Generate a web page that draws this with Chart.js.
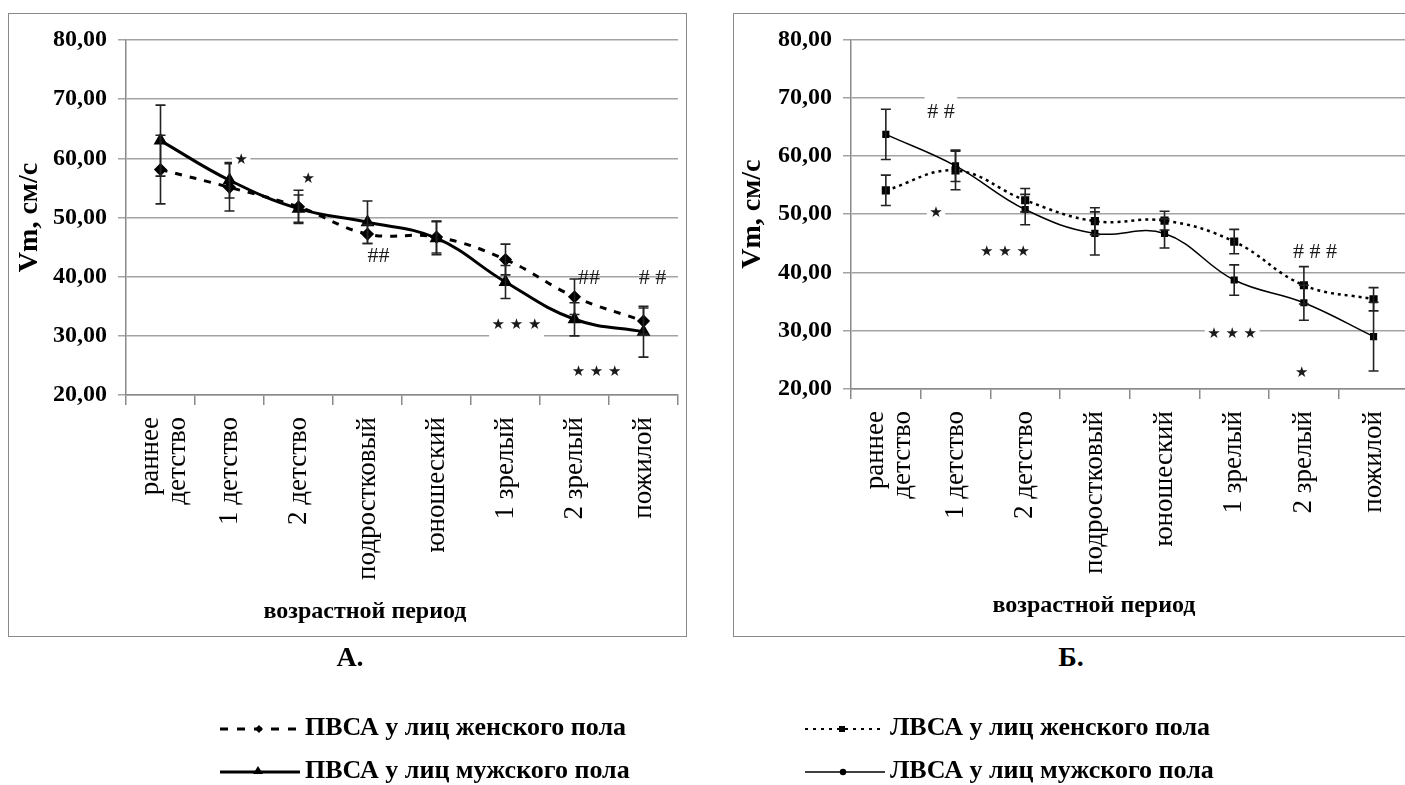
<!DOCTYPE html>
<html>
<head>
<meta charset="utf-8">
<script src="https://cdn.jsdelivr.net/npm/chart.js@4.4.1/dist/chart.umd.min.js"></script>
<style>
  html, body { margin: 0; padding: 0; background: #fff; width: 1405px; height: 785px; overflow: hidden; position: relative;
    font-family: "Liberation Serif", "Times New Roman", serif; color: #000; }
  .frame { position: absolute; border: 1.5px solid #8a8a8a; box-sizing: border-box; }
  #frameA { left: 8px; top: 13px; width: 679px; height: 624px; }
  #frameB { left: 733px; top: 13px; width: 720px; height: 624px; }
  canvas { position: absolute; }
  #chartA { left: 9px; top: 14px; }
  #chartB { left: 734px; top: 14px; }
  .txt { position: absolute; white-space: nowrap; line-height: 1; font-weight: bold; }
  .axis-title { font-size: 24px; transform: translateX(-50%); }
  .panel { font-size: 28px; transform: translateX(-50%); }
  .legend { font-size: 26px; }
  #legendMarks { position: absolute; left: 0; top: 0; }
</style>
</head>
<body>
<div class="frame" id="frameA"></div>
<div class="frame" id="frameB"></div>
<canvas id="chartA" width="677" height="621"></canvas>
<canvas id="chartB" width="700" height="621"></canvas>

<div class="txt axis-title" style="left:365px; top:598px;">возрастной период</div>
<div class="txt axis-title" style="left:1094px; top:592px;">возрастной период</div>
<div class="txt panel" style="left:350px; top:643px;">А.</div>
<div class="txt panel" style="left:1071px; top:643px;">Б.</div>

<svg id="legendMarks" width="1405" height="785">
  <!-- ПВСА, женщины: штрих + ромб -->
  <line x1="220" y1="729" x2="300" y2="729" stroke="#000" stroke-width="3" stroke-dasharray="8 9"/>
  <polygon points="259,725 263,729 259,733 255,729" fill="#000"/>
  <!-- ПВСА, мужчины: сплошная + треугольник -->
  <line x1="220" y1="772" x2="300" y2="772" stroke="#000" stroke-width="3"/>
  <polygon points="258,766 263,774 253,774" fill="#000"/>
  <!-- ЛВСА, женщины: пунктир + квадрат -->
  <line x1="805" y1="729" x2="885" y2="729" stroke="#000" stroke-width="2" stroke-dasharray="3 5"/>
  <rect x="839" y="726" width="6" height="6" fill="#000"/>
  <!-- ЛВСА, мужчины: тонкая + точка -->
  <line x1="805" y1="772" x2="885" y2="772" stroke="#000" stroke-width="1.5"/>
  <circle cx="843" cy="772" r="3.2" fill="#000"/>
</svg>
<div class="txt legend" style="left:305px; top:714px;">ПВСА у лиц женского пола</div>
<div class="txt legend" style="left:305px; top:757px;">ПВСА у лиц мужского пола</div>
<div class="txt legend" style="left:890px; top:714px;">ЛВСА у лиц женского пола</div>
<div class="txt legend" style="left:890px; top:757px;">ЛВСА у лиц мужского пола</div>

<script>
// Возрастные периоды
const ageGroups = [['раннее', 'детство'], '1 детство', '2 детство', 'подростковый', 'юношеский', '1 зрелый', '2 зрелый', 'пожилой'];

// А. ПВСА (Vm, см/с), среднее и погрешность
const pvsaFemale    = [58.1, 55.1, 51.8, 47.2, 46.7, 42.9, 36.6, 32.5];
const pvsaFemaleErr = [5.8, 4.0, 2.8, 1.6, 2.7, 2.6, 3.0, 2.2];
const pvsaMale      = [63.0, 56.3, 51.5, 49.2, 46.5, 39.1, 32.8, 30.7];
const pvsaMaleErr   = [6.0, 3.0, 2.3, 3.6, 2.8, 2.8, 2.8, 4.3];

// Б. ЛВСА (Vm, см/с), среднее и погрешность
const lvsaFemale    = [54.1, 57.5, 52.4, 48.8, 48.9, 45.3, 37.8, 35.4];
const lvsaFemaleErr = [2.6, 3.3, 2.0, 2.3, 1.6, 2.1, 3.2, 2.0];
const lvsaMale      = [63.7, 58.3, 50.8, 46.7, 46.7, 38.7, 34.8, 29.0];
const lvsaMaleErr   = [4.3, 2.7, 2.6, 3.7, 2.5, 2.6, 3.0, 5.9];

// Значки достоверности различий: текст, позиция (индекс периода, Vm)
const marksA = [
  { text: '★',     at: [1.17, 59.7], star: true, box: true },
  { text: '★',     at: [2.14, 56.5], star: true },
  { text: '##',    at: [3.16, 43.4] },
  { text: '##',    at: [6.21, 39.7] },
  { text: '# #',   at: [7.13, 39.7] },
  { text: '★ ★ ★', at: [5.16, 31.8], star: true, box: true },
  { text: '★ ★ ★', at: [6.32, 23.9], star: true }
];
const marksB = [
  { text: '# #',   at: [0.79, 67.5], box: true },
  { text: '★',     at: [0.72, 50.2], star: true, box: true },
  { text: '★ ★ ★', at: [1.71, 43.5], star: true },
  { text: '# # #', at: [6.16, 43.5] },
  { text: '★ ★ ★', at: [4.97, 29.5], star: true, box: true },
  { text: '★',     at: [5.97, 22.7], star: true }
];

Chart.defaults.font.family = "'Liberation Serif', 'Times New Roman', serif";
Chart.defaults.color = '#000';

// Вертикальные планки погрешностей
const errorBars = {
  id: 'errorBars',
  afterDatasetsDraw(chart, args, opts) {
    const { ctx } = chart;
    const y = chart.scales.y;
    chart.data.datasets.forEach((ds, i) => {
      if (!ds.errors) return;
      const meta = chart.getDatasetMeta(i);
      ctx.save();
      ctx.strokeStyle = opts.color;
      ctx.lineWidth = opts.width;
      meta.data.forEach((pt, j) => {
        const v = ds.data[j], e = ds.errors[j];
        const x = pt.x;
        const yt = y.getPixelForValue(v + e);
        const yb = y.getPixelForValue(v - e);
        ctx.beginPath();
        ctx.moveTo(x, yt); ctx.lineTo(x, yb);
        ctx.moveTo(x - opts.cap, yt); ctx.lineTo(x + opts.cap, yt);
        ctx.moveTo(x - opts.cap, yb); ctx.lineTo(x + opts.cap, yb);
        ctx.stroke();
      });
      ctx.restore();
    });
  }
};

// Двухстрочная подпись периода: строки по обе стороны от деления
const centerMultiline = {
  id: 'centerMultiline',
  beforeDraw(chart) {
    const sc = chart.scales.x;
    const items = sc.getLabelItems();
    const lh = sc.options.ticks.font.size * sc.options.ticks.font.lineHeight;
    items.forEach(it => {
      if (Array.isArray(it.label) && it.label.length > 1) {
        it.options.translation[0] -= (it.label.length - 1) * lh / 2 - 4;
      }
    });
  }
};

// Значки * и # поверх графика
const significance = {
  id: 'significance',
  afterDraw(chart, args, opts) {
    const { ctx } = chart;
    const xs = chart.scales.x, ys = chart.scales.y;
    opts.items.forEach(m => {
      const px = xs.getPixelForValue(m.at[0]);
      const py = ys.getPixelForValue(m.at[1]);
      ctx.save();
      ctx.font = m.star ? "15px 'DejaVu Sans'" : "22px 'Liberation Serif'";
      ctx.textAlign = 'center';
      ctx.textBaseline = 'middle';
      if (m.box) {
        const w = ctx.measureText(m.text).width + 5;
        const h = m.star ? 24 : 34;
        ctx.fillStyle = '#fff';
        ctx.fillRect(px - w / 2, py - h / 2, w, h);
      }
      ctx.fillStyle = '#1a1a1a';
      ctx.fillText(m.text, px, py);
      ctx.restore();
    });
  }
};

function scales(titlePad, xHeight) {
  return {
    x: {
      type: 'category',
      offset: true,
      grid: { display: true, drawOnChartArea: false, offset: true, tickLength: 10, color: '#8a8a8a', lineWidth: 1.5 },
      border: { display: true, color: '#8a8a8a', width: 1.5 },
      ticks: { autoSkip: false, minRotation: 90, maxRotation: 90, padding: 12, color: '#000',
               font: { size: 27, lineHeight: 1 } },
      afterFit(s) { s.height = xHeight; }
    },
    y: {
      min: 20, max: 80,
      ticks: { stepSize: 10, padding: 11, color: '#000', font: { size: 24, weight: 'bold' },
               callback: v => v.toFixed(2).replace('.', ',') },
      grid: { color: '#a3a3a3', lineWidth: 1.5, tickLength: 8 },
      border: { display: true, color: '#8a8a8a', width: 1.5 },
      title: { display: true, text: 'Vm, см/с', color: '#000', font: { size: 28, weight: 'bold' },
               padding: { top: titlePad, bottom: 0 } },
      afterFit(s) { s.width = 117; }
    }
  };
}

function baseOptions(pad, titlePad, xHeight, marks, barWidth) {
  return {
    responsive: false,
    animation: false,
    layout: { padding: pad },
    plugins: {
      legend: { display: false },
      tooltip: { enabled: false },
      errorBars: { color: '#222', width: barWidth, cap: 5 },
      significance: { items: marks }
    },
    scales: scales(titlePad, xHeight)
  };
}

new Chart(document.getElementById('chartA'), {
  type: 'line',
  data: {
    labels: ageGroups,
    datasets: [
      { label: 'ПВСА у лиц женского пола', data: pvsaFemale, errors: pvsaFemaleErr,
        borderColor: '#000', backgroundColor: '#000', borderWidth: 3, borderDash: [7, 8],
        pointStyle: 'rectRot', pointRadius: 4.5, tension: 0.4, fill: false },
      { label: 'ПВСА у лиц мужского пола', data: pvsaMale, errors: pvsaMaleErr,
        borderColor: '#000', backgroundColor: '#000', borderWidth: 3,
        pointStyle: 'triangle', pointRadius: 5, tension: 0.4, fill: false }
    ]
  },
  options: baseOptions({ top: 26, right: 8, bottom: 0, left: 0 }, 4, 240, marksA, 1.6),
  plugins: [errorBars, centerMultiline, significance]
});

new Chart(document.getElementById('chartB'), {
  type: 'line',
  data: {
    labels: ageGroups,
    datasets: [
      { label: 'ЛВСА у лиц женского пола', data: lvsaFemale, errors: lvsaFemaleErr,
        borderColor: '#000', backgroundColor: '#000', borderWidth: 2.5, borderDash: [3, 4],
        pointStyle: 'rect', pointRadius: 4, tension: 0.4, fill: false },
      { label: 'ЛВСА у лиц мужского пола', data: lvsaMale, errors: lvsaMaleErr,
        borderColor: '#000', backgroundColor: '#000', borderWidth: 1.5,
        pointStyle: 'rect', pointRadius: 4, tension: 0.4, fill: false }
    ]
  },
  options: baseOptions({ top: 25, right: 25.6, bottom: 0, left: 0 }, 2, 246, marksB, 1.6),
  plugins: [errorBars, centerMultiline, significance]
});
</script>
</body>
</html>
